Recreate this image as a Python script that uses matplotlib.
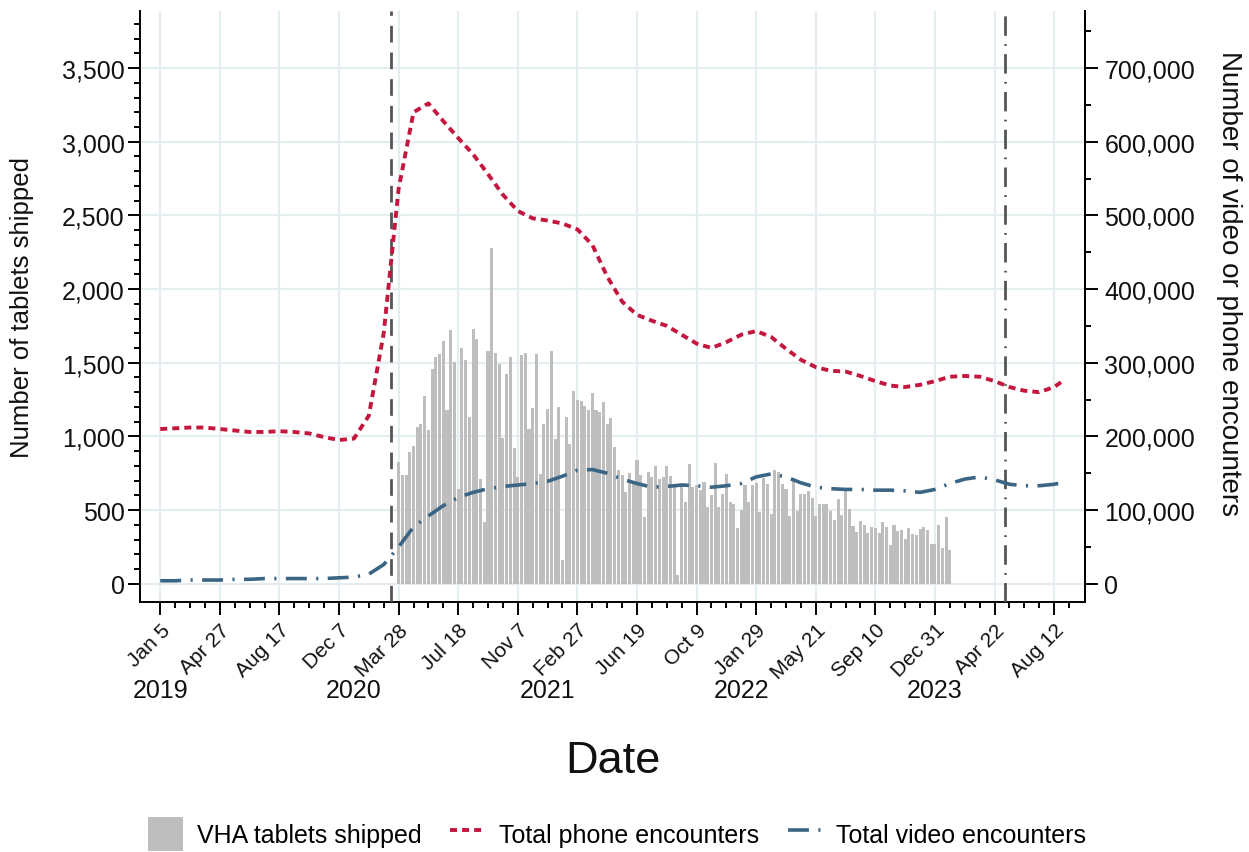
import matplotlib
matplotlib.use("Agg")
import matplotlib.pyplot as plt
import matplotlib.ticker as mticker
import numpy as np
import pandas as pd

plt.rcParams['font.family'] = ['Liberation Sans', 'DejaVu Sans']

# weekly tablet shipments, first week starting 2020-03-28
tablet_start = "2020-03-28"
tablets = [825, 735, 735, 893, 938, 1063, 1085, 1273, 1045, 1454,
           1538, 1560, 1644, 1176, 1723, 1508, 644, 1601, 1521, 1130,
           1730, 1662, 712, 418, 1580, 2279, 1565, 1494, 990, 1426,
           1542, 920, 721, 1549, 1569, 1051, 1194, 1558, 746, 1081,
           1187, 1578, 984, 1198, 163, 1130, 950, 1311, 1250,
           1243, 1209, 1176, 1296, 1176, 1165, 1232, 1085, 1124, 927,
           769, 735, 622, 751, 690, 841, 741, 452, 758, 724,
           796, 708, 724, 798, 730, 667, 61, 678, 558, 814,
           656, 667, 633, 690, 524, 604, 819, 520, 610, 746,
           554, 538, 378, 497, 672, 554, 667, 685, 486, 719, 678,
           470, 769, 758, 674, 644, 463, 701, 491, 610, 610,
           629, 581, 463, 543, 543, 543, 491, 430, 577, 468,
           640, 509, 391, 351, 423, 400, 346, 384, 378,
           344, 418, 385, 265, 400, 357, 362, 305, 380, 339,
           328, 368, 385, 366, 271, 271, 396, 244, 452, 231]

# encounters (thousands), sampled every 4 weeks from 2019-01-05, last point 2023-08-26
phone_k = [210, 211, 212, 212, 210, 208, 206, 206, 207, 206,
           204, 199, 195, 197, 228, 340, 536, 640, 652, 628,
           605, 583, 556, 528, 506, 496, 493, 489, 481, 460,
           417, 383, 365, 357, 350, 338, 326, 320, 328, 338,
           343, 335, 319, 304, 294, 289, 288, 282, 275, 269,
           267, 270, 275, 281, 282, 281, 275, 267, 262, 260,
           267, 274]
video_k = [4, 4, 5, 5, 5, 6, 6, 7, 7, 7,
           7, 7, 8, 9, 13, 26, 50, 77, 92, 106,
           117, 124, 129, 132, 134, 136, 139, 146, 154, 155,
           150, 142, 136, 131, 132, 134, 133, 131, 133, 136,
           145, 149, 145, 137, 131, 129, 128, 128, 127, 127,
           126, 124, 128, 136, 142, 145, 141, 135, 133, 133,
           135, 137]

tick_labels = ["Jan 5", "Apr 27", "Aug 17", "Dec 7", "Mar 28", "Jul 18", "Nov 7",
               "Feb 27", "Jun 19", "Oct 9", "Jan 29", "May 21", "Sep 10",
               "Dec 31", "Apr 22", "Aug 12"]
years = ["2019", "2020", "2021", "2022", "2023"]
emergency_start = "2020-03-13"
emergency_end = "2023-05-11"

bar_dates = pd.date_range(tablet_start, periods=len(tablets), freq="7D")
enc_dates = list(pd.date_range("2019-01-05", periods=len(phone_k) - 1, freq="28D")) + [pd.Timestamp("2023-08-26")]
phone = np.array(phone_k) * 1000
video = np.array(video_k) * 1000

start = pd.Timestamp("2019-01-05")
tick_dates = pd.date_range(start, periods=len(tick_labels), freq="112D")
year_dates = [start + pd.Timedelta(days=364 * i) for i in range(len(years))]

red = "#c4173f"
blue = "#3a6584"
grey = "#bebebe"
gridc = "#e4edf0"
txt = "#111111"

fig = plt.figure(figsize=(12.49, 8.53), dpi=100)
ax = fig.add_axes([0.1121, 0.2931, 0.7566, 0.6928])
ax2 = ax.twinx()

bars = ax.bar(bar_dates, tablets, width=5.8, color=grey, zorder=2,
              label="VHA tablets shipped")
ax.axvline(pd.Timestamp(emergency_start), color="#555555", lw=2,
           linestyle=(0, (6, 3.6)), zorder=3)
ax.axvline(pd.Timestamp(emergency_end), color="#555555", lw=2,
           linestyle=(0, (7, 3, 0.6, 3)), zorder=3)

l1, = ax2.plot(enc_dates, phone, color=red, lw=2.8, linestyle=(0, (1.8, 1.3)),
               label="Total phone encounters")
l2, = ax2.plot(enc_dates, video, color=blue, lw=2.6, linestyle=(0, (5.8, 2.6, 0.6, 2.6)),
               label="Total video encounters")

xmin = start - pd.Timedelta(days=38)
xmax = start + pd.Timedelta(days=1738)
ax.set_xlim(xmin, xmax)
ax.set_ylim(-124, 3887)
ax2.set_ylim(-24800, 777400)

ax.set_xticks(tick_dates)
ax.set_xticklabels(tick_labels, rotation=45, ha="right", rotation_mode="anchor",
                   fontsize=15, color=txt)
ax.set_xticks(pd.date_range(start, tick_dates[-1] + pd.Timedelta(days=28), freq="28D"), minor=True)

ax.set_yticks(np.arange(0, 3501, 500))
ax.set_yticks([v for v in range(0, 3887, 100) if v % 500], minor=True)
ax.yaxis.set_major_formatter(mticker.FuncFormatter(lambda v, p: f"{int(v):,}"))
ax2.set_yticks(np.arange(0, 700001, 100000))
ax2.set_yticks([v for v in range(0, 777400, 50000) if v % 100000], minor=True)
ax2.yaxis.set_major_formatter(mticker.FuncFormatter(lambda v, p: f"{int(v):,}"))

ax.tick_params(axis="y", which="major", length=9, width=1.4, labelsize=18, pad=2, labelcolor=txt)
ax.tick_params(axis="y", which="minor", length=4.5, width=1.4)
ax.tick_params(axis="x", which="major", length=9, width=1.4, pad=4)
ax.tick_params(axis="x", which="minor", length=4.5, width=1.4)
ax2.tick_params(axis="y", which="major", length=9, width=1.4, labelsize=18, pad=5, labelcolor=txt)
ax2.tick_params(axis="y", which="minor", length=4.5, width=1.4)

ax.grid(True, which="major", color=gridc, lw=1.6, zorder=0)
ax.set_axisbelow(True)

for a in (ax, ax2):
    a.spines["top"].set_visible(False)
    for s in a.spines.values():
        s.set_linewidth(1.4)
ax2.spines["left"].set_visible(False)
ax2.spines["bottom"].set_visible(False)

ax.set_ylabel("Number of tablets shipped", fontsize=18.5, color=txt, va="center")
ax.yaxis.set_label_coords(-0.125, 0.5)
ax2.set_ylabel("Number of video or phone encounters", fontsize=20, color=txt,
               rotation=270, va="center")
ax2.yaxis.set_label_coords(1.152, 0.54)

for yd, yl in zip(year_dates, years):
    ax.text(yd, -0.149, yl, transform=ax.get_xaxis_transform(), ha="center",
            va="center", fontsize=18, color=txt)

fig.text(0.4904, 0.1067, "Date", ha="center", va="center", fontsize=32.5, color=txt)

fig.legend(handles=[bars, l1, l2], loc="center", bbox_to_anchor=(0.494, 0.021),
           ncol=3, frameon=False, fontsize=18, handlelength=1.4, handleheight=1.7,
           handletextpad=0.55, columnspacing=1.15)

fig.savefig("out.png", dpi=100)
